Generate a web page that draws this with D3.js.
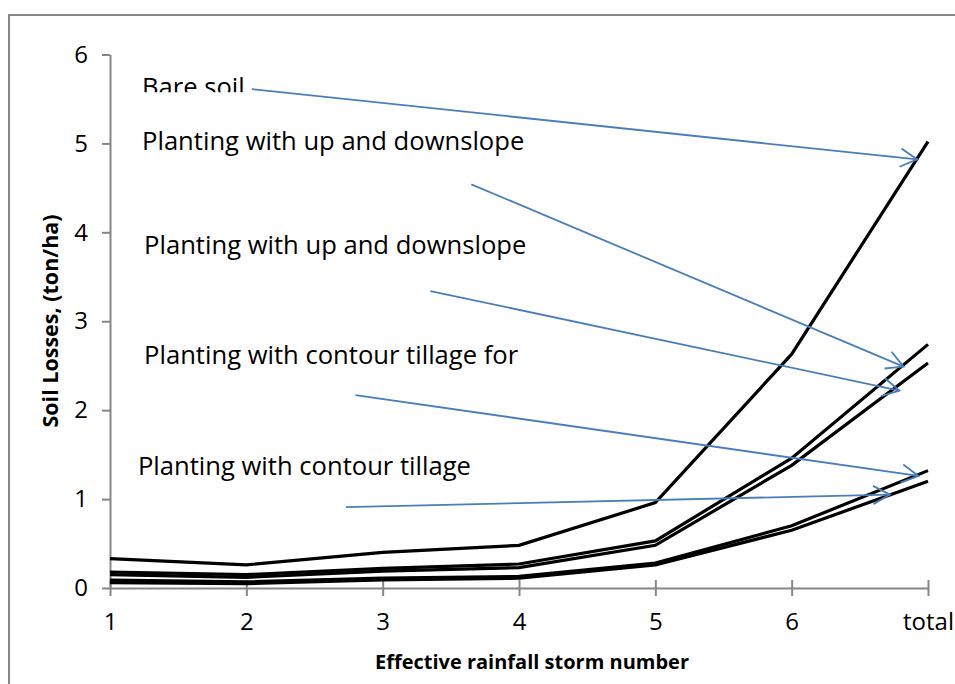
<!DOCTYPE html>
<html>
<head>
<meta charset="utf-8">
<script src="https://cdn.jsdelivr.net/npm/d3@7"></script>
<style>
	body { margin: 0; background: #fff; }
	text { font-family: "Open Sans", Lato, sans-serif; fill: #000; }
</style>
</head>
<body>
<script>

// categories on the x axis
var categories = ["1", "2", "3", "4", "5", "6", "total"];

// soil losses (ton/ha) per storm, one array per treatment
var bareSoil      = [0.33, 0.26, 0.40, 0.48, 0.96, 2.63, 5.02];
var upDown1       = [0.18, 0.15, 0.22, 0.27, 0.53, 1.46, 2.74];
var upDown2       = [0.15, 0.12, 0.19, 0.23, 0.48, 1.38, 2.53];
var contourFor    = [0.09, 0.07, 0.11, 0.13, 0.28, 0.70, 1.32];
var contour       = [0.06, 0.05, 0.09, 0.11, 0.26, 0.65, 1.20];

var series = [bareSoil, upDown1, upDown2, contourFor, contour];

var yTicks = [0, 1, 2, 3, 4, 5, 6];

// text labels, placed in data units (category index, ton/ha)
var labelText = ["Bare soil",
				 "Planting with up and downslope",
				 "Planting with up and downslope",
				 "Planting with contour tillage for",
				 "Planting with contour tillage"];
var labelPos = [[0.235, 5.53], [0.235, 4.93], [0.25, 3.76], [0.25, 2.52], [0.205, 1.27]];

// arrows from labels to the series ends, [start, end] in data units
var arrows = [[[1.04, 5.61], [5.92, 4.82]],
			  [[2.65, 4.54], [5.82, 2.49]],
			  [[2.35, 3.34], [5.79, 2.22]],
			  [[1.80, 2.17], [5.93, 1.26]],
			  [[1.73, 0.91], [5.72, 1.05]]];

function load() {

	var width = 955, height = 684;
	var grey = "#868686", blue = "#4a7ebb";

	var svg = d3.select("body").append("svg")
		.attr("width", width)
		.attr("height", height);

	// outer chart frame (runs off the right and bottom)
	svg.append("rect")
		.attr("x", 9).attr("y", 15)
		.attr("width", 980).attr("height", 700)
		.attr("fill", "none")
		.attr("stroke", grey)
		.attr("stroke-width", 2);

	var x = d3.scalePoint().domain(categories).range([110, 928]).padding(0);
	var xi = d3.scaleLinear().domain([0, categories.length - 1]).range([110, 928]);
	var y = d3.scaleLinear().domain([0, 6]).range([588, 54.5]);

	// y axis
	var gy = svg.append("g")
		.attr("transform", "translate(110,0)")
		.call(d3.axisLeft(y).tickValues(yTicks).tickFormat(d3.format("d"))
			.tickSize(8).tickSizeOuter(0).tickPadding(14));

	// x axis with crossing ticks
	var gx = svg.append("g")
		.attr("transform", "translate(0,588)")
		.call(d3.axisBottom(x).tickSize(8).tickSizeOuter(0).tickPadding(17));
	gx.selectAll(".tick line").attr("y1", -8).attr("y2", 8);

	svg.selectAll(".tick text")
		.attr("font-family", null)
		.style("font-size", "24px");

	svg.selectAll(".domain, .tick line")
		.attr("stroke", grey)
		.attr("stroke-width", 2);

	// axis titles
	svg.append("text")
		.attr("transform", "translate(58,321) rotate(-90)")
		.attr("text-anchor", "middle")
		.style("font-size", "21.5px")
		.style("font-weight", "bold")
		.text("Soil Losses, (ton/ha)");

	svg.append("text")
		.attr("x", 532)
		.attr("y", 669)
		.attr("text-anchor", "middle")
		.style("font-size", "20px")
		.style("font-weight", "bold")
		.text("Effective rainfall storm number");

	// series lines
	var line = d3.line()
		.x(function(d, i) { return x(categories[i]); })
		.y(function(d) { return y(d); });

	svg.selectAll(".series")
		.data(series)
		.enter().append("path")
			.attr("class", "series")
			.attr("d", line)
			.attr("fill", "none")
			.attr("stroke", "#000")
			.attr("stroke-width", 3.2);

	// the first label box is cut off at the bottom
	svg.append("clipPath").attr("id", "cut")
		.append("rect")
			.attr("x", 0).attr("y", 0)
			.attr("width", width).attr("height", y(labelPos[0][1]) - 4);

	svg.selectAll(".label")
		.data(labelText)
		.enter().append("text")
			.attr("class", "label")
			.attr("x", function(d, i) { return xi(labelPos[i][0]); })
			.attr("y", function(d, i) { return y(labelPos[i][1]); })
			.attr("clip-path", function(d, i) { return i === 0 ? "url(#cut)" : null; })
			.style("font-size", "25.6px")
			.text(function(d) { return d; });

	// arrows
	var ga = svg.append("g")
		.attr("stroke", blue)
		.attr("stroke-width", 1.8)
		.attr("fill", "none");

	arrows.forEach(function(a) {
		var x1 = xi(a[0][0]), y1 = y(a[0][1]),
			x2 = xi(a[1][0]), y2 = y(a[1][1]);
		var ang = Math.atan2(y2 - y1, x2 - x1);
		var len = 19, spread = 0.5;
		ga.append("line")
			.attr("x1", x1).attr("y1", y1)
			.attr("x2", x2).attr("y2", y2);
		ga.append("path")
			.attr("d", "M" + (x2 - len * Math.cos(ang - spread)) + "," + (y2 - len * Math.sin(ang - spread)) +
				"L" + x2 + "," + y2 +
				"L" + (x2 - len * Math.cos(ang + spread)) + "," + (y2 - len * Math.sin(ang + spread)));
	});
}

load();
</script>
</body>
</html>
